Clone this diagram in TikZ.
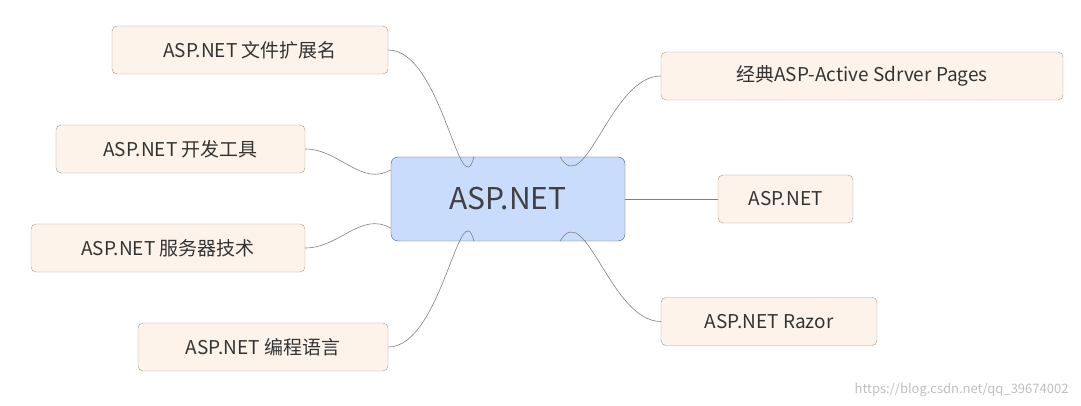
\documentclass[tikz,border=0pt]{standalone}
\usepackage{fontspec}
\setmainfont{Noto Sans CJK SC}
\usetikzlibrary{positioning}
\definecolor{rootfill}{HTML}{C9DCFB}
\definecolor{rootline}{HTML}{4A5A78}
\definecolor{leaffill}{HTML}{FDF3EA}
\definecolor{leafline}{HTML}{A89888}
\tikzset{
  root/.style={draw=rootline,fill=rootfill,rounded corners=7pt,minimum width=234pt,minimum height=84pt,font=\fontsize{30}{34}\selectfont,text=black!75},
  leaf/.style={draw=leafline,fill=leaffill,rounded corners=5pt,minimum height=48pt,font=\fontsize{19}{22}\selectfont,text=black!80},
  link/.style={draw=black!50,line width=0.6pt}
}
\begin{document}
\begin{tikzpicture}[x=1pt,y=-1pt]
\useasboundingbox (0,0) rectangle (1081,406);

\node[root] (c) at (508,199) {ASP.NET};

% left side
\node[leaf,minimum width=276pt] (a1) at (250,50) {ASP.NET 文件扩展名};
\node[leaf,minimum width=249pt] (a2) at (180.5,149) {ASP.NET 开发工具};
\node[leaf,minimum width=274pt] (a3) at (168,248) {ASP.NET 服务器技术};
\node[leaf,minimum width=250pt] (a4) at (263,347) {ASP.NET 编程语言};

% right side
\node[leaf,minimum width=402pt] (b1) at (862,76) {经典ASP-Active Sdrver Pages};
\node[leaf,minimum width=135pt] (b2) at (785.5,199) {ASP.NET};
\node[leaf,minimum width=216pt] (b3) at (769,321.5) {ASP.NET Razor};

\draw[link] ([xshift=-34pt]c.north) to[out=-105,in=0] (a1.east);
\draw[link] ([yshift=-13pt]c.north west) to[out=-150,in=0] (a2.east);
\draw[link] ([yshift=13pt]c.south west) to[out=150,in=0] (a3.east);
\draw[link] ([xshift=-34pt]c.south) to[out=105,in=0] (a4.east);
\draw[link] ([xshift=52pt]c.north) to[out=-60,in=180] (b1.west);
\draw[link] (c.east) -- (b2.west);
\draw[link] ([xshift=52pt]c.south) to[out=60,in=180] (b3.west);

\node[text=black!25,font=\fontsize{13}{15}\selectfont,anchor=south east] (wm) at (1072,400) {https://blog.csdn.net/qq\_39674002};
\end{tikzpicture}
\end{document}
